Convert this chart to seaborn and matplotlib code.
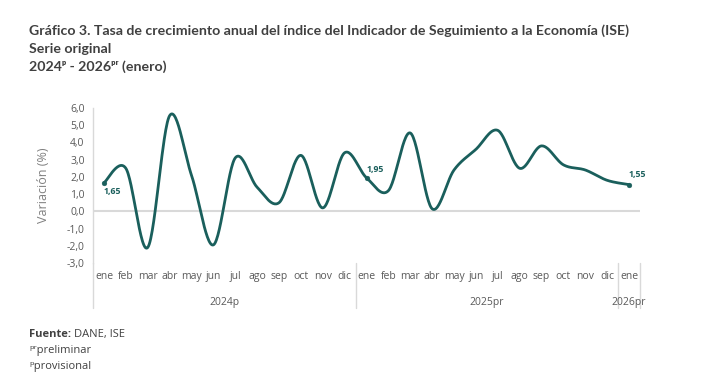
import numpy as np
import pandas as pd
import matplotlib
matplotlib.use("Agg")
import matplotlib.pyplot as plt
import matplotlib.transforms as mtransforms
import seaborn as sns

# ─────────────────────────────────────────────────────────────
# DATA
# ─────────────────────────────────────────────────────────────
months = ["ene", "feb", "mar", "abr", "may", "jun", "jul", "ago", "sep", "oct", "nov", "dic",
          "ene", "feb", "mar", "abr", "may", "jun", "jul", "ago", "sep", "oct", "nov", "dic",
          "ene"]
values = [1.65, 2.5, -2.1, 5.55, 2.1, -1.95, 3.1, 1.4, 0.5, 3.25, 0.2, 3.4,
          1.95, 1.2, 4.55, 0.15, 2.4, 3.6, 4.7, 2.5, 3.8, 2.7, 2.4, 1.8,
          1.55]
years = ["2024p", "2025pr", "2026pr"]
year_len = [12, 12, 1]
labeled = [0, 12, 24]

yticks = np.arange(-3, 7, 1)

LINE = "#1A5F5C"
GRAY_TXT = "#595959"
DARK_TXT = "#404040"
GRID = "#D9D9D9"

sns.set_style("white")
plt.rcParams["font.family"] = ["Open Sans", "DejaVu Sans"]
TITLE_FONT = ["Lato", "DejaVu Sans"]


def catmull(xs, ys, n=30):
    # smoothed line like the spreadsheet "smooth line" option
    px = np.concatenate([[xs[0]], xs, [xs[-1]]])
    py = np.concatenate([[ys[0]], ys, [ys[-1]]])
    out_x, out_y = [], []
    t = np.linspace(0, 1, n)
    for i in range(1, len(px) - 2):
        p0 = np.array([px[i], py[i]])
        p3 = np.array([px[i + 1], py[i + 1]])
        c1 = p0 + (p3 - np.array([px[i - 1], py[i - 1]])) / 6
        c2 = p3 - (np.array([px[i + 2], py[i + 2]]) - p0) / 6
        b = ((1 - t) ** 3)[:, None] * p0 + (3 * (1 - t) ** 2 * t)[:, None] * c1 \
            + (3 * (1 - t) * t ** 2)[:, None] * c2 + (t ** 3)[:, None] * p3
        out_x.extend(b[:, 0])
        out_y.extend(b[:, 1])
    return np.array(out_x), np.array(out_y)


xpos = np.arange(len(values), dtype=float)
sx, sy = catmull(xpos, np.array(values))
smooth = pd.DataFrame({"x": sx, "y": sy})

fig = plt.figure(figsize=(7.21, 3.73), dpi=100)
ax = fig.add_axes([93 / 721, 1 - 263 / 373, (640 - 93) / 721, (263 - 108) / 373])

ax.axhline(0, color=GRID, lw=1.5, zorder=1)
sns.lineplot(data=smooth, x="x", y="y", sort=False, color=LINE, lw=2.0, ax=ax, zorder=3)
sns.scatterplot(x=xpos[labeled], y=np.array(values)[labeled], color=LINE, s=12,
                edgecolor=LINE, ax=ax, zorder=4)

# data labels
offsets = {0: (6, -3, "top"), 12: (6, 3, "bottom"), 24: (6, 4, "bottom")}
for i in labeled:
    dx, dy, va = offsets[i]
    ax.annotate(f"{values[i]:.2f}".replace(".", ","), (xpos[i], values[i]),
                xytext=(dx, dy), textcoords="offset points", ha="center", va=va,
                fontsize=6.3, fontweight="bold", color=LINE)

ax.set_xlim(-0.5, len(values) - 0.5)
ax.set_ylim(-3, 6)
ax.set_yticks(yticks)
ax.set_yticklabels([f"{v:.1f}".replace(".", ",") for v in yticks], fontsize=7.5, color=GRAY_TXT)
ax.tick_params(axis="y", length=3, color=GRID, pad=3)
ax.set_xticks(xpos)
ax.set_xticklabels(months, fontsize=7.5, color=GRAY_TXT)
ax.tick_params(axis="x", length=0, pad=6)
ax.set_xlabel("")
ax.set_ylabel("Variación (%)", fontsize=9, color="#808080", labelpad=12)

for s in ["top", "right", "bottom"]:
    ax.spines[s].set_visible(False)
ax.spines["left"].set_color(GRID)
ax.spines["left"].set_linewidth(1)

# year groups and separators
trans = mtransforms.blended_transform_factory(ax.transData, ax.transAxes)
start = -0.5
bounds = [start]
for yl, n in zip(years, year_len):
    ax.text(start + n / 2, -0.255, yl, transform=trans, ha="center", va="center",
            fontsize=7.5, color=GRAY_TXT)
    start += n
    bounds.append(start)
for b in bounds:
    ax.plot([b, b], [0, -0.29], transform=trans, color=GRID, lw=1, clip_on=False)

# titles
title_kw = dict(fontsize=10.2, fontweight="bold", color=DARK_TXT, va="baseline", family=TITLE_FONT)
fig.text(29 / 721, 1 - 35 / 373,
         "Gráfico 3. Tasa de crecimiento anual del índice del Indicador de Seguimiento a la Economía (ISE)",
         **title_kw)
fig.text(29 / 721, 1 - 53 / 373, "Serie original", **title_kw)
fig.text(29 / 721, 1 - 71 / 373, "2024ᵖ - 2026ᵖʳ (enero)", **title_kw)

# footer
fig.text(29 / 721, 1 - 337 / 373, "Fuente:", fontsize=8, fontweight="bold", color=DARK_TXT, va="baseline")
fig.text(74 / 721, 1 - 337 / 373, "DANE, ISE", fontsize=8, color=DARK_TXT, va="baseline")
fig.text(29 / 721, 1 - 353 / 373, "ᵖʳpreliminar", fontsize=8, color=DARK_TXT, va="baseline")
fig.text(29 / 721, 1 - 369 / 373, "ᵖprovisional", fontsize=8, color=DARK_TXT, va="baseline")

fig.savefig("out.png", dpi=100)
plt.close(fig)
